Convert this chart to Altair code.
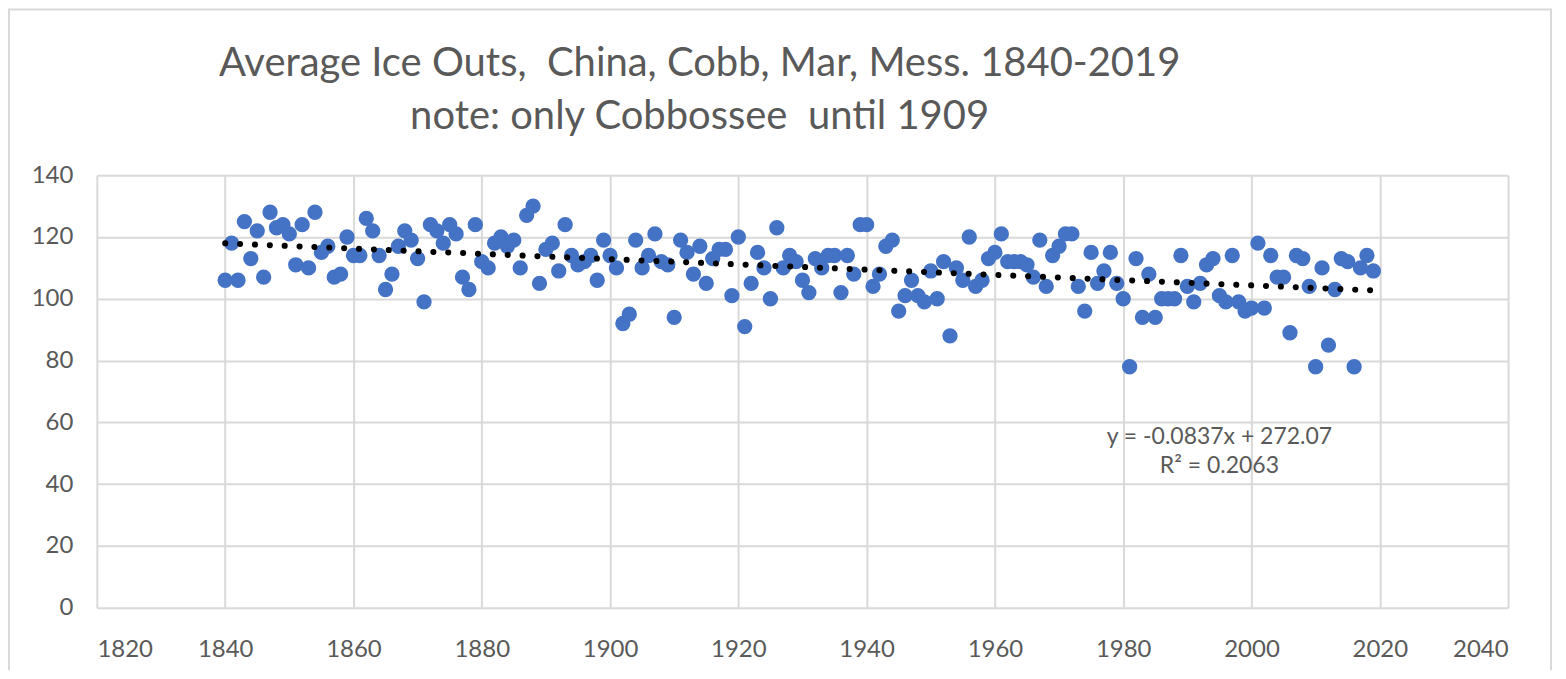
import altair as alt
import pandas as pd

years = list(range(1840, 2020))
ice_out = [
    106, 118, 106, 125, 113, 122, 107, 128, 123, 124,  # 1840s
    121, 111, 124, 110, 128, 115, 117, 107, 108, 120,  # 1850s
    114, 114, 126, 122, 114, 103, 108, 117, 122, 119,  # 1860s
    113, 99, 124, 122, 118, 124, 121, 107, 103, 124,   # 1870s
    112, 110, 118, 120, 117, 119, 110, 127, 130, 105,  # 1880s
    116, 118, 109, 124, 114, 111, 112, 114, 106, 119,  # 1890s
    114, 110, 92, 95, 119, 110, 114, 121, 112, 111,    # 1900s
    94, 119, 115, 108, 117, 105, 113, 116, 116, 101,   # 1910s
    120, 91, 105, 115, 110, 100, 123, 110, 114, 112,   # 1920s
    106, 102, 113, 110, 114, 114, 102, 114, 108, 124,  # 1930s
    124, 104, 108, 117, 119, 96, 101, 106, 101, 99,    # 1940s
    109, 100, 112, 88, 110, 106, 120, 104, 106, 113,   # 1950s
    115, 121, 112, 112, 112, 111, 107, 119, 104, 114,  # 1960s
    117, 121, 121, 104, 96, 115, 105, 109, 115, 105,   # 1970s
    100, 78, 113, 94, 108, 94, 100, 100, 100, 114,     # 1980s
    104, 99, 105, 111, 113, 101, 99, 114, 99, 96,      # 1990s
    97, 118, 97, 114, 107, 107, 89, 114, 113, 104,     # 2000s
    78, 110, 85, 103, 113, 112, 78, 110, 114, 109,     # 2010s
]

title_lines = ["Average Ice Outs,\u00a0 China, Cobb, Mar, Mess. 1840-2019",
               "note: only Cobbossee\u00a0 until 1909"]
x_ticks = [1820, 1840, 1860, 1880, 1900, 1920, 1940, 1960, 1980, 2000, 2020, 2040]
y_ticks = [0, 20, 40, 60, 80, 100, 120, 140]

eq_text = ["y = -0.0837x + 272.07", "R² = 0.2063"]
eq_x = [1995, 1995]
eq_y = [55.3, 45.7]

df = pd.DataFrame({"year": years, "value": ice_out})
eq_df = pd.DataFrame({"label": eq_text, "x": eq_x, "y": eq_y})

W, H = 1413, 433
FONT = "Lato"
GRAY = "#595959"

xscale = alt.Scale(domain=[1820, 2040], nice=False, zero=False)
yscale = alt.Scale(domain=[0, 140], nice=False)

x_axis = alt.Axis(values=x_ticks, format="d", title=None, grid=True, gridColor="#D9D9D9",
                  gridWidth=2, domain=False, ticks=False, labelFont=FONT, labelFontSize=24,
                  labelColor=GRAY, labelPadding=30)
y_axis = alt.Axis(values=y_ticks, title=None, grid=True, gridColor="#D9D9D9", gridWidth=2,
                  domain=False, ticks=False, labelFont=FONT, labelFontSize=24,
                  labelColor=GRAY, labelPadding=24)

border = alt.Chart(pd.DataFrame({"a": [0]})).mark_rect(
    fill=None, stroke="#D9D9D9", strokeWidth=2
).encode(x=alt.value(-88), x2=alt.value(1456), y=alt.value(-166), y2=alt.value(520))

points = alt.Chart(df).mark_circle(size=235, color="#4472C4", opacity=1).encode(
    x=alt.X("year:Q", scale=xscale, axis=x_axis),
    y=alt.Y("value:Q", scale=yscale, axis=y_axis),
)

trend = alt.Chart(df).transform_regression(
    "year", "value", extent=[1840, 2019]
).mark_line(color="black", strokeWidth=6, strokeDash=[0.1, 14.8], strokeCap="round").encode(
    x=alt.X("year:Q", scale=xscale),
    y=alt.Y("value:Q", scale=yscale),
)

eq = alt.Chart(eq_df).mark_text(font=FONT, fontSize=23, color=GRAY, align="center",
                                baseline="middle").encode(
    x=alt.X("x:Q", scale=xscale),
    y=alt.Y("y:Q", scale=yscale),
    text="label:N",
)

chart = alt.layer(border, points, trend, eq).properties(
    width=W, height=H,
    title=alt.TitleParams(text=title_lines, font=FONT, fontSize=40, fontWeight="normal",
                          color=GRAY, anchor="middle", dx=-103, lineHeight=53, offset=-129,
                          frame="group"),
    autosize=alt.AutoSizeParams(type="none"),
    padding={"left": 89, "top": 167, "right": 50, "bottom": 62},
).configure_view(stroke=None)

chart.save("out.html", embed_options={"renderer": "svg", "actions": False})
